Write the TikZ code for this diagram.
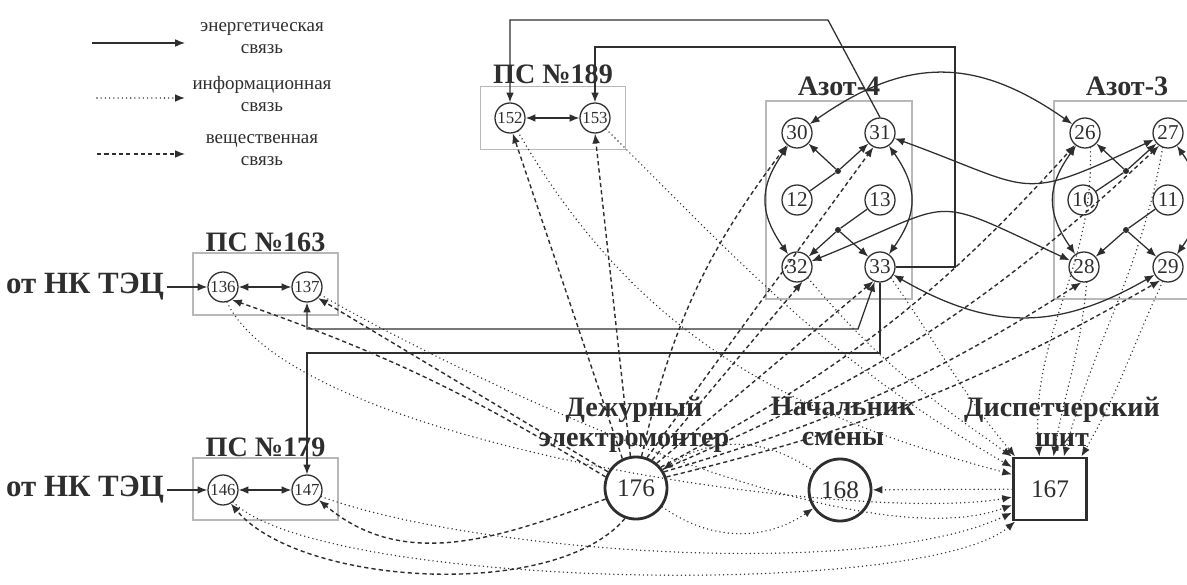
\documentclass[tikz,border=0pt]{standalone}
\usepackage{fontspec}
\setmainfont{Liberation Serif}
\usetikzlibrary{arrows, arrows.meta, positioning}
\definecolor{ink}{HTML}{2E2E2E}
\definecolor{frame}{HTML}{B8B8B8}

\begin{document}
\begin{tikzpicture}[x=0.025cm, y=0.025cm, >={Latex[length=7pt,width=5.5pt]}]

\tikzset{unit/.style = {shape=circle,draw=ink,line width=0.9pt,minimum size=0.75cm,inner sep=0pt,text=ink,font=\fontsize{15}{15}\selectfont}}
\tikzset{sub/.style = {unit,font=\fontsize{12}{12}\selectfont}}
\tikzset{big/.style = {shape=circle,draw=ink,line width=2pt,minimum size=1.55cm,inner sep=0pt,text=ink,font=\fontsize{18}{18}\selectfont}}
\tikzset{jn/.style = {shape=circle,fill=ink,inner sep=0pt,minimum size=0.15cm}}
\tikzset{grp/.style = {draw=frame,line width=0.8pt,inner sep=0pt}}
\tikzset{ttl/.style = {text=ink,inner sep=0pt,font=\fontsize{20}{22}\selectfont\bfseries}}
\tikzset{captxt/.style = {text=ink,inner sep=0pt,align=center,font=\fontsize{20}{21.5}\selectfont\bfseries}}
\tikzset{lgd/.style = {text=ink,inner sep=0pt,align=center,font=\fontsize{13.5}{16}\selectfont}}
\tikzset{en/.style = {draw=ink,line width=0.9pt}}
\tikzset{info/.style = {draw=ink,line width=1.1pt,line cap=round,dash pattern=on 0pt off 3pt}}
\tikzset{mat/.style = {draw=ink,line width=1pt,dash pattern=on 3pt off 2.2pt}}

\useasboundingbox (0,0) rectangle (1187,-584);

% legend
\coordinate (lgE1) at (92,-43);
\coordinate (lgE2) at (185,-43);
\coordinate (lgI1) at (97,-98);
\coordinate (lgI2) at (185,-98);
\coordinate (lgM1) at (97,-154);
\coordinate (lgM2) at (185,-154);
\path (lgE1) edge[en,->] (lgE2);
\path (lgI1) edge[info,->] (lgI2);
\path (lgM1) edge[mat,->] (lgM2);
\node[lgd] (lgEt) at (262,-38) {энергетическая\\связь};
\node[lgd] (lgIt) at (262,-94) {информационная\\связь};
\node[lgd] (lgMt) at (262,-150) {вещественная\\связь};

% groups
\node[grp,minimum width=3.625cm,minimum height=1.575cm] (ps189) at (553,-118) {};
\node[ttl,above=1.5pt of ps189] (t189) {ПС №189};
\node[grp,minimum width=3.625cm,minimum height=1.55cm] (ps163) at (265.5,-284) {};
\node[ttl,above=0.5pt of ps163] (t163) {ПС №163};
\node[grp,minimum width=3.625cm,minimum height=1.55cm] (ps179) at (265.5,-489) {};
\node[ttl,above=0.5pt of ps179] (t179) {ПС №179};
\node[grp,minimum width=3.65cm,minimum height=4.95cm] (az4) at (839,-200) {};
\node[ttl,above=3pt of az4] (taz4) {Азот-4};
\node[grp,minimum width=3.65cm,minimum height=4.95cm] (az3) at (1127,-200) {};
\node[ttl,above=3pt of az3] (taz3) {Азот-3};

% vertices
\node[sub] (n152) at (510,-118) {152};
\node[sub] (n153) at (595,-118) {153};
\node[sub] (n136) at (223,-287) {136};
\node[sub] (n137) at (307,-287) {137};
\node[sub] (n146) at (223,-490) {146};
\node[sub] (n147) at (307,-490) {147};
\node[unit] (n30) at (797,-133) {30};
\node[unit] (n31) at (880,-133) {31};
\node[unit] (n12) at (797,-200) {12};
\node[unit] (n13) at (880,-200) {13};
\node[unit] (n32) at (797,-267) {32};
\node[unit] (n33) at (880,-267) {33};
\node[unit] (n26) at (1085,-133) {26};
\node[unit] (n27) at (1168,-133) {27};
\node[unit] (n10) at (1083,-200) {10};
\node[unit] (n11) at (1168,-200) {11};
\node[unit] (n28) at (1084,-267) {28};
\node[unit] (n29) at (1168,-267) {29};
\node[jn] (j4a) at (838,-171) {};
\node[jn] (j4b) at (838,-230) {};
\node[jn] (j3a) at (1126,-171) {};
\node[jn] (j3b) at (1126,-230) {};
\node[big] (n176) at (636,-488) {176};
\node[big] (n168) at (840,-490) {168};
\node[draw=ink,line width=2pt,minimum width=1.825cm,minimum height=1.55cm,inner sep=0pt,text=ink,font=\fontsize{18}{18}\selectfont] (n167) at (1050,-489) {167};
\node[captxt,anchor=north] (c176) at (634,-397) {Дежурный\\электромонтер};
\node[captxt,anchor=north] (c168) at (843,-397) {Начальник\\смены};
\node[captxt,anchor=north] (c167) at (1062,-397) {Диспетчерский\\щит};
\node[ttl,font=\fontsize{22}{22}\selectfont\bfseries,inner sep=2pt] (tec1) at (85,-287) {от НК ТЭЦ};
\node[ttl,font=\fontsize{22}{22}\selectfont\bfseries,inner sep=2pt] (tec2) at (85,-490) {от НК ТЭЦ};

%edges: energy
\path (tec1) edge[en,->] (n136);
\path (tec2) edge[en,->] (n146);
\path (n136) edge[en,<->] (n137);
\path (n146) edge[en,<->] (n147);
\path (n152) edge[en,<->] (n153);
\draw[en,->] (n31.north) -- (828,-20) -| (n152.north);
\draw[en,->] (n33.east) -| (955,-47) -| (n153.north);
\draw[en,<->] (n137.south) |- (858,-329) -- (n33.250);
\draw[en,->] (n33.south) |- (307,-353) -- (n147.north);
\path (n30) edge[en,<->,bend right=35,looseness=1.2] (n32);
\path (n31) edge[en,<->,bend left=35,looseness=1.2] (n33);
\path (n26) edge[en,<->,bend right=35,looseness=1.2] (n28);
\path (n27) edge[en,<->,bend left=35,looseness=1.2] (n29);
\path (n12) edge[en] (j4a);
\path (j4a) edge[en,->] (n30);
\path (j4a) edge[en,->] (n31);
\path (n13) edge[en] (j4b);
\path (j4b) edge[en,->] (n32);
\path (j4b) edge[en,->] (n33);
\path (n10) edge[en] (j3a);
\path (j3a) edge[en,->] (n26);
\path (j3a) edge[en,->] (n27);
\path (n11) edge[en] (j3b);
\path (j3b) edge[en,->] (n28);
\path (j3b) edge[en,->] (n29);
\path (n30) edge[en,<->,out=35,in=145,looseness=1.15] (n26);
\path (n31) edge[en,<->,out=-20,in=205,looseness=1.5] (n27);
\path (n32) edge[en,<->,out=22,in=155,looseness=1.6] (n28);
\path (n33) edge[en,<->,out=-30,in=210,looseness=1.1] (n29);

%edges: material
\path (n176.115) edge[mat,->] (n152.-80);
\path (n176.100) edge[mat,->] (n153.-90);
\path (n176.80) edge[mat,->,bend left=12] (n30.230);
\path (n176.70) edge[mat,->] (n31.245);
\path (n176.60) edge[mat,->] (n32.-70);
\path (n176.50) edge[mat,->] (n33.-115);
\path (n176.40) edge[mat,->,bend right=10] (n26.230);
\path (n176.35) edge[mat,->,bend right=10] (n27.235);
\path (n176.30) edge[mat,->,bend right=8] (n28.-100);
\path (n176.20) edge[mat,->,bend right=8] (n29.-120);
\path (n176.160) edge[mat,->,bend right=6] (n136.-55);
\path (n176.150) edge[mat,->] (n137.-45);
\path (n176.250) edge[mat,->,out=230,in=-50,looseness=0.7] (n146.-60);
\path (n176.200) edge[mat,->,out=200,in=-40] (n147.-40);

%edges: information
\path (n152.-60) edge[info,->,out=-60,in=165] (n167.159);
\path (n153.-45) edge[info,->,out=-45,in=150] (n167.150);
\path (n32.-45) edge[info,->,out=-50,in=145] (n167.north west);
\path (n33.-45) edge[info,->,out=-55,in=130] (n167.137);
\path (n26.-70) edge[info,->,out=-88,in=95] (n167.108);
\path (n28.-80) edge[info,->,out=-95,in=80] (n167.84);
\path (n27.-110) edge[info,->,out=-100,in=75] (n167.67);
\path (n29.-110) edge[info,->,out=-115,in=60] (n167.46);
\path (n136.-75) edge[info,->,out=-65,in=190,looseness=0.5] (n167.192);
\path (n137.-30) edge[info,->,out=-30,in=200,looseness=0.6] (n167.203);
\path (n147.-25) edge[info,->,out=-20,in=205,looseness=0.6] (n167.212);
\path (n146.-50) edge[info,->,out=-45,in=220,looseness=0.4] (n167.223);
\path (n167) edge[info,->] (n168);
\path (n176) edge[info,->,bend right=35] (n168);
\path (n168) edge[info,->,bend right=35] (n176);
\end{tikzpicture}
\end{document}
